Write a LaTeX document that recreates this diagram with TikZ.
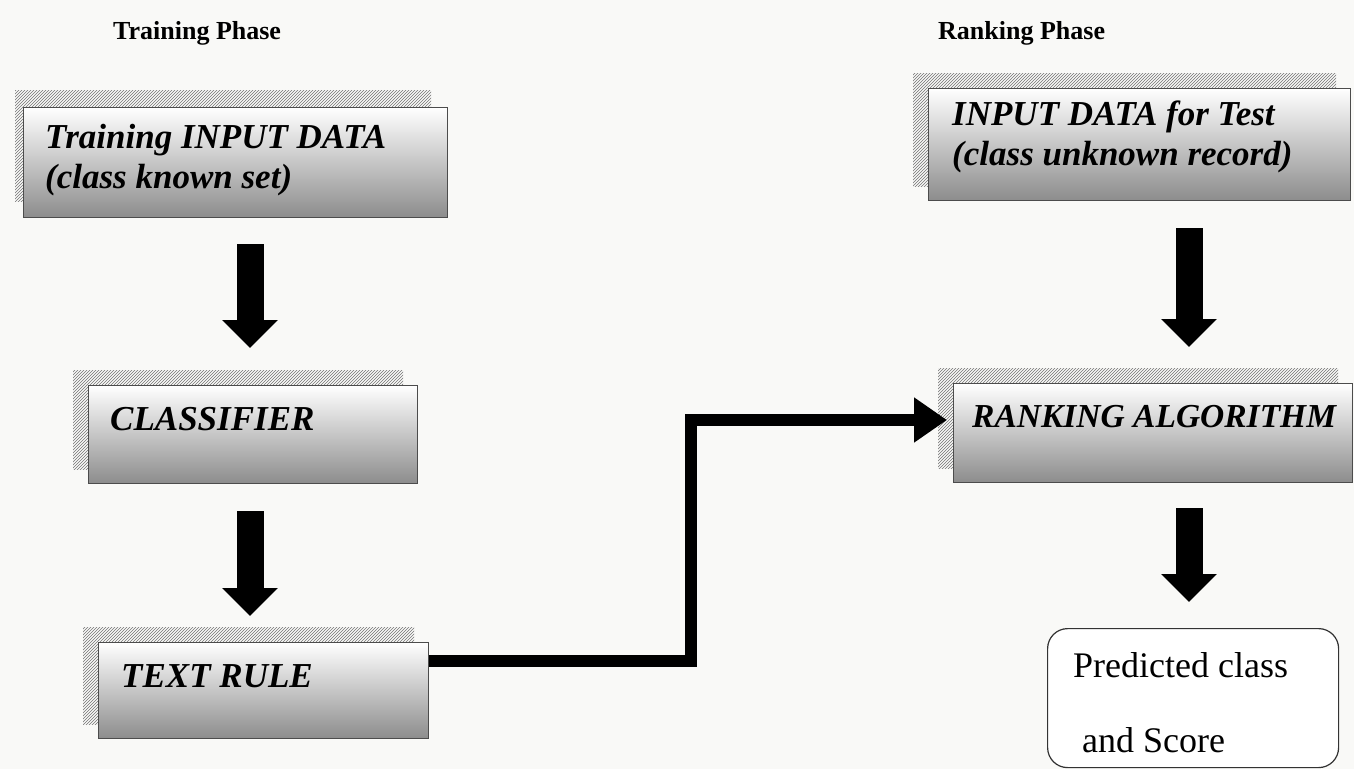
\documentclass[tikz,border=0pt]{standalone}
\usepackage{fontspec}
\setmainfont{Liberation Serif}
\usetikzlibrary{arrows.meta,patterns,calc,backgrounds}

\definecolor{paper}{RGB}{249,249,247}

\tikzset{
  procbox/.style={rectangle, draw=black!70, line width=1.1pt, inner sep=0pt,
    anchor=north west, top color=white, middle color=black!7, bottom color=black!45},
  hatchshadow/.style={pattern=north east lines, pattern color=black!55},
  boxtext/.style={font=\fontsize{35pt}{40pt}\selectfont\bfseries\itshape,
    anchor=base west, inner sep=0pt},
  plaintext/.style={font=\fontsize{36pt}{40pt}\selectfont, anchor=base west, inner sep=0pt},
  phasetitle/.style={font=\fontsize{26pt}{30pt}\selectfont\bfseries, anchor=base west, inner sep=0pt},
  blockarrow/.style={line width=27pt, -{Triangle[length=28pt,width=54pt]}},
  elbowarrow/.style={line width=12pt, line join=miter, -{Triangle[length=33pt,width=43pt]}},
  outbox/.style={rectangle, rounded corners=20pt, draw=black!80, line width=1.2pt,
    fill=white, anchor=north west, inner sep=0pt}
}

\begin{document}
\begin{tikzpicture}[x=1pt,y=-1pt]
\useasboundingbox (0,0) rectangle (1354,769);

% phase headings
\node[phasetitle] (trainhead) at (113,39) {Training Phase};
\node[phasetitle] (rankhead) at (938,39) {Ranking Phase};

% training column
\node[procbox, minimum width=424pt, minimum height=110pt] (b1) at (23,107) {};
\node[boxtext] (t1a) at ($(b1.north west)+(22,41)$) {Training INPUT DATA};
\node[boxtext] (t1b) at ($(b1.north west)+(22,81)$) {(class known set)};

\node[procbox, minimum width=329pt, minimum height=98pt] (b2) at (88,385) {};
\node[boxtext] (t2) at ($(b2.north west)+(22,45)$) {CLASSIFIER};

\node[procbox, minimum width=330pt, minimum height=96pt] (b3) at (98,642) {};
\node[boxtext] (t3) at ($(b3.north west)+(23,45)$) {TEXT RULE};

% ranking column
\node[procbox, minimum width=422pt, minimum height=112pt] (b4) at (928,88) {};
\node[boxtext] (t4a) at ($(b4.north west)+(24,37)$) {INPUT DATA for Test};
\node[boxtext] (t4b) at ($(b4.north west)+(24,77)$) {(class unknown record)};

\node[procbox, minimum width=399pt, minimum height=99pt] (b5) at (953,383) {};
\node[boxtext, font=\fontsize{33.5pt}{40pt}\selectfont\bfseries\itshape] (t5)
  at ($(b5.north west)+(19,44)$) {RANKING ALGORITHM};

\node[outbox, minimum width=291pt, minimum height=139pt] (out) at (1047,628) {};
\node[plaintext] (o1) at ($(out.north west)+(26,49)$) {Predicted class};
\node[plaintext] (o2) at ($(out.north west)+(35,124)$) {and Score};

% hatched drop shadows and paper, behind everything
\begin{scope}[on background layer]
  \fill[paper] (0,0) rectangle (1354,769);
  \fill[hatchshadow] ([shift={(-8pt,17pt)}]b1.north west)
    rectangle ([shift={(-17pt,17pt)}]b1.south east);
  \foreach \b in {b2,b3,b4,b5}
    \fill[hatchshadow] ([shift={(-15pt,15pt)}]\b.north west)
      rectangle ([shift={(-15pt,15pt)}]\b.south east);
\end{scope}

% block arrows
\draw[blockarrow] ($(b1.south west)+(227,26)$) -- ($(b2.north west)+(162,-37)$);
\draw[blockarrow] ($(b2.south west)+(162,27)$) -- ($(b3.north west)+(152,-26)$);
\draw[blockarrow] ($(b4.south west)+(261,27)$) -- ($(b5.north west)+(236,-36)$);
\draw[blockarrow] ($(b5.south west)+(236,25)$) -- ($(out.north west)+(142,-26)$);

% elbow connector from the rule box to the ranking algorithm
\draw[elbowarrow] ($(b3.north east)+(0,19)$)
  -| ($(b3.north east)!.5!(b5.north west)$)
  |- ($(b5.north west)+(-6,37)$);
\end{tikzpicture}
\end{document}
